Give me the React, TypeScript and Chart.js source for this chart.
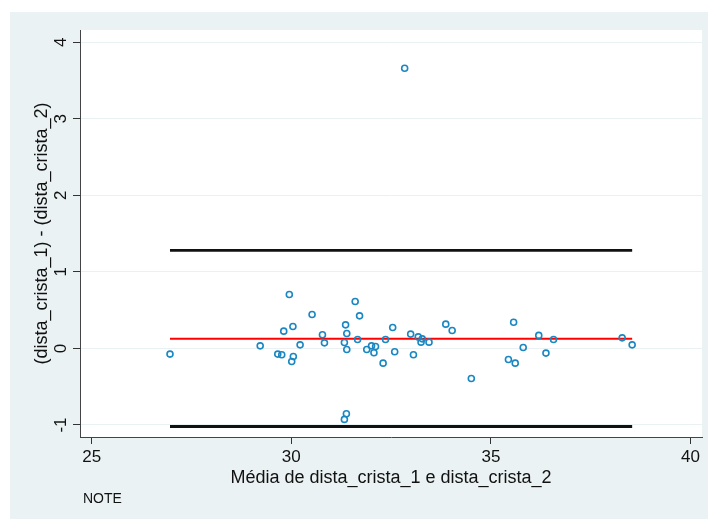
import React, { useEffect, useRef } from "react";
import { Chart, registerables } from "chart.js";

Chart.register(...registerables);

// Bland-Altman data (mean of two measures vs difference)
const meanValues = [
  26.96, 29.22, 29.66, 29.76, 29.95, 29.81, 30.04, 30.05, 30.01, 30.22,
  30.52, 30.78, 30.83, 31.36, 31.39, 31.33, 31.39, 31.38, 31.33, 31.6,
  31.71, 31.66, 31.89, 32.01, 32.11, 32.07, 32.3, 32.36, 32.54, 32.59,
  32.99, 33.06, 33.18, 33.25, 33.28, 33.45, 33.87, 34.03, 34.51, 35.44,
  35.57, 35.61, 35.81, 36.2, 36.38, 36.57, 38.29, 38.54, 32.84,
];
const diffValues = [
  -0.074, 0.034, -0.074, -0.083, 0.705, 0.226, 0.287, -0.105, -0.17, 0.047,
  0.444, 0.178, 0.073, 0.308, 0.196, 0.078, -0.013, -0.854, -0.927, 0.613,
  0.426, 0.117, -0.013, 0.034, 0.026, -0.057, -0.192, 0.117, 0.274, -0.044,
  0.187, -0.083, 0.151, 0.082, 0.125, 0.082, 0.317, 0.235, -0.392, -0.144,
  0.343, -0.192, 0.013, 0.17, -0.061, 0.117, 0.138, 0.047, 3.66,
];
const lineStartEnd = [26.96, 38.54];
const meanDiff = 0.125;
const upperLimit = 1.28;
const lowerLimit = -1.02;

const xTicks = [25, 30, 35, 40];
const yTicks = [-1, 0, 1, 2, 3, 4];
const xTitle = "Média de dista_crista_1 e dista_crista_2";
const yTitle = "(dista_crista_1) - (dista_crista_2)";
const noteText = "NOTE";

const FONT = "'Liberation Sans', Arial, Helvetica, sans-serif";
const TEXT = "#111111";

export default function App() {
  const ref = useRef<HTMLCanvasElement | null>(null);

  useEffect(() => {
    if (!ref.current) return;
    const points = meanValues.map((x, i) => ({ x, y: diffValues[i] }));
    const hline = (v: number) => lineStartEnd.map((x) => ({ x, y: v }));

    const plotBg = {
      id: "plotBg",
      beforeDraw(chart: any) {
        const { ctx, chartArea: a } = chart;
        ctx.save();
        ctx.fillStyle = "#ffffff";
        ctx.fillRect(a.left, a.top, a.right - a.left, a.bottom - a.top);
        ctx.restore();
      },
    };

    const extraText = {
      id: "extraText",
      afterDraw(chart: any) {
        const { ctx, chartArea: a } = chart;
        const ys = chart.scales.y;
        ctx.save();
        ctx.fillStyle = TEXT;
        ctx.font = `17px ${FONT}`;
        for (const v of yTicks) {
          const py = ys.getPixelForValue(v);
          ctx.save();
          ctx.translate(a.left - 14, py);
          ctx.rotate(-Math.PI / 2);
          ctx.textAlign = "center";
          ctx.textBaseline = "alphabetic";
          ctx.fillText(String(v), 0, 0);
          ctx.restore();
        }
        ctx.font = `14px ${FONT}`;
        ctx.textAlign = "left";
        ctx.textBaseline = "middle";
        ctx.fillText(noteText, a.left + 3, chart.height - 20);
        ctx.restore();
      },
    };

    const chart = new Chart(ref.current, {
      type: "scatter",
      data: {
        datasets: [
          {
            type: "scatter",
            data: points,
            order: 0,
            pointStyle: "circle",
            pointRadius: 3,
            pointBorderWidth: 1.6,
            pointBackgroundColor: "rgba(0,0,0,0)",
            pointBorderColor: "#1a87c2",
          } as any,
          {
            type: "line",
            data: hline(upperLimit),
            order: 1,
            borderColor: "#111111",
            borderWidth: 2.8,
            pointRadius: 0,
          } as any,
          {
            type: "line",
            data: hline(lowerLimit),
            order: 1,
            borderColor: "#111111",
            borderWidth: 2.8,
            pointRadius: 0,
          } as any,
          {
            type: "line",
            data: hline(meanDiff),
            order: 1,
            borderColor: "#ff0000",
            borderWidth: 2,
            pointRadius: 0,
          } as any,
        ],
      },
      options: {
        responsive: false,
        animation: false,
        devicePixelRatio: 1,
        layout: { padding: { top: 18, right: 6, bottom: 0, left: 0 } },
        plugins: { legend: { display: false }, tooltip: { enabled: false } },
        scales: {
          x: {
            type: "linear",
            min: 24.705,
            max: 40.29,
            afterBuildTicks: (s: any) => {
              s.ticks = xTicks.map((v) => ({ value: v }));
            },
            afterFit: (s: any) => {
              s.height = 82;
            },
            grid: {
              drawOnChartArea: false,
              drawTicks: true,
              tickLength: 7,
              tickColor: "#333333",
            },
            border: { display: true, color: "#444444", width: 1 },
            ticks: {
              color: TEXT,
              font: { family: FONT, size: 17 },
              padding: 3,
              maxRotation: 0,
              autoSkip: false,
              callback: (v: any) => String(v),
            },
            title: {
              display: true,
              text: xTitle,
              color: TEXT,
              font: { family: FONT, size: 18 },
              padding: { top: 0, bottom: 30 },
            },
          },
          y: {
            type: "linear",
            min: -1.157,
            max: 4.16,
            afterBuildTicks: (s: any) => {
              s.ticks = yTicks.map((v) => ({ value: v }));
            },
            afterFit: (s: any) => {
              s.width = 70;
            },
            grid: {
              color: "#e9f1f3",
              lineWidth: 1,
              drawTicks: true,
              tickLength: 7,
              tickColor: "#333333",
            },
            border: { display: true, color: "#444444", width: 1 },
            ticks: { display: false },
            title: {
              display: true,
              text: yTitle,
              color: TEXT,
              font: { family: FONT, size: 18 },
              padding: { top: 21, bottom: 0 },
            },
          },
        },
      },
      plugins: [plotBg, extraText],
    } as any);

    return () => chart.destroy();
  }, []);

  return (
    <div
      style={{
        position: "absolute",
        left: 10,
        top: 12,
        width: 698,
        height: 507,
        background: "#eaf2f3",
      }}
    >
      <canvas ref={ref} width={698} height={507} style={{ display: "block" }} />
    </div>
  );
}
